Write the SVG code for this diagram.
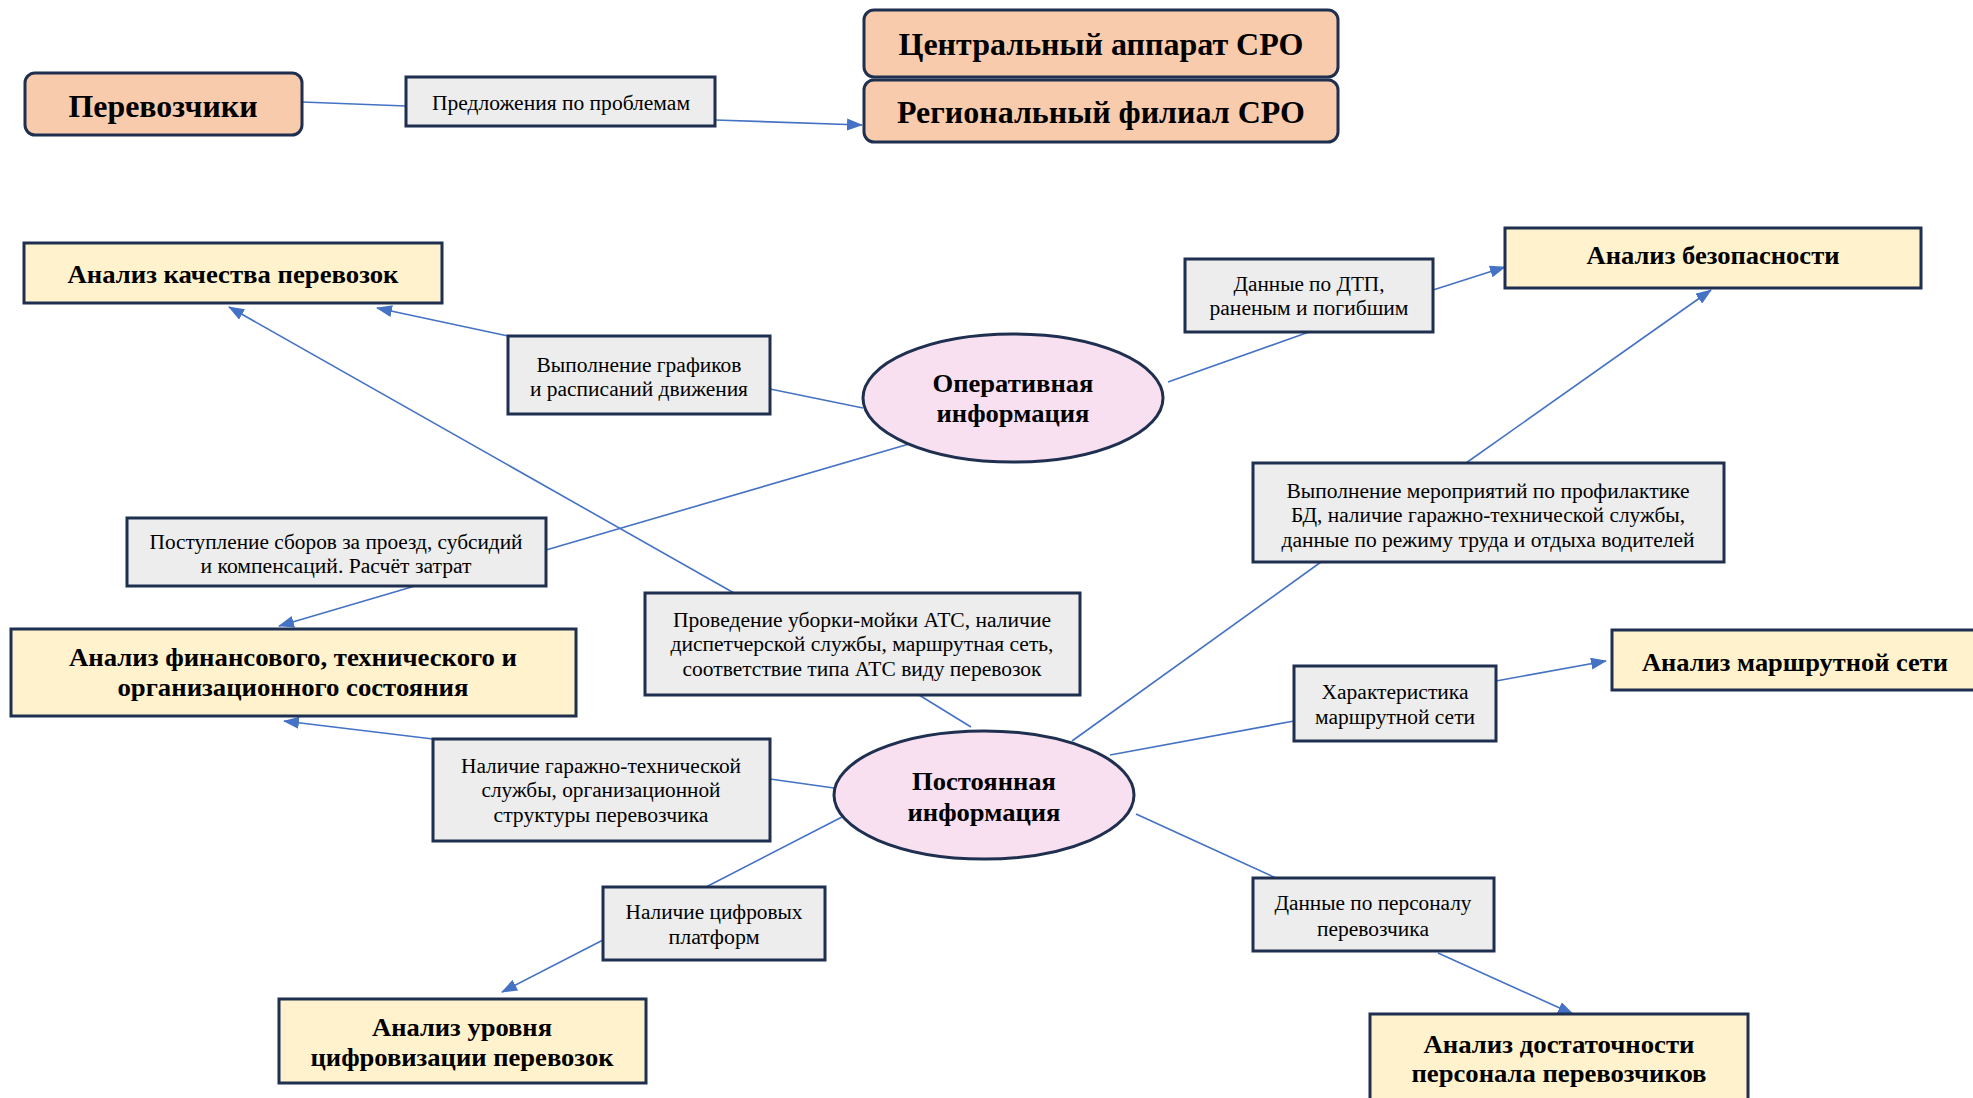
<svg xmlns="http://www.w3.org/2000/svg" width="1973" height="1098" viewBox="0 0 1973 1098">
<style>
.peach{fill:#F8CBAD;stroke:#1F2F4F;stroke-width:3}
.yel{fill:#FFF2CC;stroke:#1F2F4F;stroke-width:3}
.gray{fill:#EDEDED;stroke:#1F2F4F;stroke-width:3}
.pink{fill:#F8E0F1;stroke:#1F2F4F;stroke-width:3}
.t{font-family:"Liberation Serif","Times New Roman",serif;font-size:20px;fill:#000;text-anchor:middle}
.b{font-family:"Liberation Serif","Times New Roman",serif;font-weight:bold;font-size:26px;fill:#000;text-anchor:middle}
.big{font-size:31px}
.c{fill:none;stroke:#4472C4;stroke-width:1.6}
</style>
<defs>
<marker id="ah" markerUnits="userSpaceOnUse" markerWidth="16" markerHeight="12" refX="15" refY="6" orient="auto">
<path d="M0,0 L16,6 L0,12 z" fill="#4472C4"/>
</marker>
</defs>
<rect width="1973" height="1098" fill="#fff"/>

<g id="connectors">
<line class="c" x1="302" y1="102" x2="406" y2="106"/>
<line class="c" x1="715" y1="120" x2="862" y2="125" marker-end="url(#ah)"/>
<line class="c" x1="863" y1="408" x2="770" y2="389"/>
<line class="c" x1="508" y1="336" x2="377" y2="308" marker-end="url(#ah)"/>
<line class="c" x1="734" y1="593" x2="229" y2="307" marker-end="url(#ah)"/>
<line class="c" x1="971" y1="727" x2="919" y2="695"/>
<line class="c" x1="909" y1="444" x2="546" y2="550"/>
<line class="c" x1="415" y1="586" x2="279" y2="626" marker-end="url(#ah)"/>
<line class="c" x1="1168" y1="382" x2="1309" y2="332"/>
<line class="c" x1="1433" y1="290" x2="1505" y2="267" marker-end="url(#ah)"/>
<line class="c" x1="1072" y1="741" x2="1321" y2="562"/>
<line class="c" x1="1466" y1="463" x2="1711" y2="290" marker-end="url(#ah)"/>
<line class="c" x1="1110" y1="755" x2="1294" y2="721"/>
<line class="c" x1="1496" y1="681" x2="1606" y2="661" marker-end="url(#ah)"/>
<line class="c" x1="834" y1="788" x2="770" y2="779"/>
<line class="c" x1="433" y1="739" x2="284" y2="721" marker-end="url(#ah)"/>
<line class="c" x1="842" y1="817" x2="706" y2="887"/>
<line class="c" x1="603" y1="940" x2="502" y2="992" marker-end="url(#ah)"/>
<line class="c" x1="1136" y1="814" x2="1276" y2="878"/>
<line class="c" x1="1438" y1="953" x2="1573" y2="1014" marker-end="url(#ah)"/>
</g>

<g id="perevozchiki">
<rect class="peach" x="25" y="73" width="277" height="62" rx="10"/>
<text class="b big" x="163" y="117" textLength="189" lengthAdjust="spacingAndGlyphs">Перевозчики</text>
</g>
<g id="predlozheniya">
<rect class="gray" x="406" y="77" width="309" height="49"/>
<text class="t" x="561" y="110" textLength="258" lengthAdjust="spacingAndGlyphs">Предложения по проблемам</text>
</g>
<g id="central">
<rect class="peach" x="864" y="10" width="474" height="67" rx="10"/>
<text class="b big" x="1101" y="55" textLength="405" lengthAdjust="spacingAndGlyphs">Центральный аппарат СРО</text>
</g>
<g id="regional">
<rect class="peach" x="864" y="80" width="474" height="62" rx="10"/>
<text class="b big" x="1101" y="123" textLength="408" lengthAdjust="spacingAndGlyphs">Региональный филиал СРО</text>
</g>

<g id="an-kachestvo">
<rect class="yel" x="24" y="243" width="418" height="60"/>
<text class="b" x="233" y="283" textLength="331" lengthAdjust="spacingAndGlyphs">Анализ качества перевозок</text>
</g>
<g id="an-bezopasnost">
<rect class="yel" x="1505" y="228" width="416" height="60"/>
<text class="b" x="1713" y="264" textLength="253" lengthAdjust="spacingAndGlyphs">Анализ безопасности</text>
</g>
<g id="an-finans">
<rect class="yel" x="11" y="629" width="565" height="87"/>
<text class="b" x="293" y="666" textLength="448" lengthAdjust="spacingAndGlyphs">Анализ финансового, технического и</text>
<text class="b" x="293" y="696" textLength="351" lengthAdjust="spacingAndGlyphs">организационного состояния</text>
</g>
<g id="an-marshrut">
<rect class="yel" x="1612" y="630" width="365" height="60"/>
<text class="b" x="1795" y="671" textLength="306" lengthAdjust="spacingAndGlyphs">Анализ маршрутной сети</text>
</g>
<g id="an-cifra">
<rect class="yel" x="279" y="999" width="367" height="84"/>
<text class="b" x="462" y="1036" textLength="180" lengthAdjust="spacingAndGlyphs">Анализ уровня</text>
<text class="b" x="462" y="1066" textLength="303" lengthAdjust="spacingAndGlyphs">цифровизации перевозок</text>
</g>
<g id="an-personal">
<rect class="yel" x="1370" y="1014" width="378" height="90"/>
<text class="b" x="1559" y="1053" textLength="271" lengthAdjust="spacingAndGlyphs">Анализ достаточности</text>
<text class="b" x="1559" y="1082" textLength="295" lengthAdjust="spacingAndGlyphs">персонала перевозчиков</text>
</g>

<g id="operativnaya">
<ellipse class="pink" cx="1013" cy="398" rx="150" ry="64"/>
<text class="b" x="1013" y="392" textLength="161" lengthAdjust="spacingAndGlyphs">Оперативная</text>
<text class="b" x="1013" y="422" textLength="153" lengthAdjust="spacingAndGlyphs">информация</text>
</g>
<g id="postoyannaya">
<ellipse class="pink" cx="984" cy="795" rx="150" ry="64"/>
<text class="b" x="984" y="790" textLength="144" lengthAdjust="spacingAndGlyphs">Постоянная</text>
<text class="b" x="984" y="821" textLength="153" lengthAdjust="spacingAndGlyphs">информация</text>
</g>

<g id="grafiki">
<rect class="gray" x="508" y="336" width="262" height="78"/>
<text class="t" x="639" y="372" textLength="205" lengthAdjust="spacingAndGlyphs">Выполнение графиков</text>
<text class="t" x="639" y="396" textLength="218" lengthAdjust="spacingAndGlyphs">и расписаний движения</text>
</g>
<g id="dtp">
<rect class="gray" x="1185" y="259" width="248" height="73"/>
<text class="t" x="1309" y="291" textLength="151" lengthAdjust="spacingAndGlyphs">Данные по ДТП,</text>
<text class="t" x="1309" y="315" textLength="199" lengthAdjust="spacingAndGlyphs">раненым и погибшим</text>
</g>
<g id="sbory">
<rect class="gray" x="127" y="518" width="419" height="68"/>
<text class="t" x="336" y="549" textLength="373" lengthAdjust="spacingAndGlyphs">Поступление сборов за проезд, субсидий</text>
<text class="t" x="336" y="573" textLength="271" lengthAdjust="spacingAndGlyphs">и компенсаций. Расчёт затрат</text>
</g>
<g id="meropriyatiya">
<rect class="gray" x="1253" y="463" width="471" height="99"/>
<text class="t" x="1488" y="498" textLength="403" lengthAdjust="spacingAndGlyphs">Выполнение мероприятий по профилактике</text>
<text class="t" x="1488" y="522" textLength="394" lengthAdjust="spacingAndGlyphs">БД, наличие гаражно-технической службы,</text>
<text class="t" x="1488" y="547" textLength="413" lengthAdjust="spacingAndGlyphs">данные по режиму труда и отдыха водителей</text>
</g>
<g id="uborka">
<rect class="gray" x="645" y="593" width="435" height="102"/>
<text class="t" x="862" y="627" textLength="378" lengthAdjust="spacingAndGlyphs">Проведение уборки-мойки АТС, наличие</text>
<text class="t" x="862" y="651" textLength="383" lengthAdjust="spacingAndGlyphs">диспетчерской службы, маршрутная сеть,</text>
<text class="t" x="862" y="676" textLength="359" lengthAdjust="spacingAndGlyphs">соответствие типа АТС виду перевозок</text>
</g>
<g id="harakteristika">
<rect class="gray" x="1294" y="666" width="202" height="75"/>
<text class="t" x="1395" y="699" textLength="147" lengthAdjust="spacingAndGlyphs">Характеристика</text>
<text class="t" x="1395" y="724" textLength="160" lengthAdjust="spacingAndGlyphs">маршрутной сети</text>
</g>
<g id="garazh">
<rect class="gray" x="433" y="739" width="337" height="102"/>
<text class="t" x="601" y="773" textLength="280" lengthAdjust="spacingAndGlyphs">Наличие гаражно-технической</text>
<text class="t" x="601" y="797" textLength="239" lengthAdjust="spacingAndGlyphs">службы, организационной</text>
<text class="t" x="601" y="822" textLength="215" lengthAdjust="spacingAndGlyphs">структуры перевозчика</text>
</g>
<g id="platformy">
<rect class="gray" x="603" y="887" width="222" height="73"/>
<text class="t" x="714" y="919" textLength="177" lengthAdjust="spacingAndGlyphs">Наличие цифровых</text>
<text class="t" x="714" y="944" textLength="91" lengthAdjust="spacingAndGlyphs">платформ</text>
</g>
<g id="personal">
<rect class="gray" x="1253" y="878" width="241" height="73"/>
<text class="t" x="1373" y="910" textLength="197" lengthAdjust="spacingAndGlyphs">Данные по персоналу</text>
<text class="t" x="1373" y="936" textLength="112" lengthAdjust="spacingAndGlyphs">перевозчика</text>
</g>
</svg>
